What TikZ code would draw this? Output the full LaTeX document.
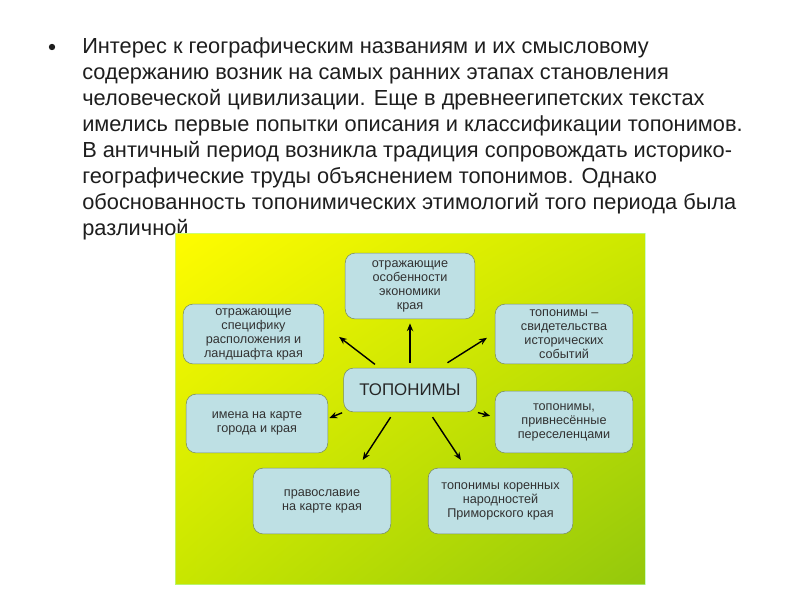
\documentclass[tikz,border=0pt]{standalone}
\usepackage{fontspec}
\setmainfont{Liberation Sans}
\usepackage{tikz}
\usetikzlibrary{arrows.meta,shadings}

\definecolor{boxfill}{RGB}{190,224,228}
\definecolor{boxline}{RGB}{120,140,100}
\definecolor{boxtext}{RGB}{50,50,50}
\definecolor{bodytext}{RGB}{30,30,30}
\definecolor{fieldul}{RGB}{255,252,0}
\definecolor{fieldur}{RGB}{205,232,0}
\definecolor{fieldll}{RGB}{200,230,0}
\definecolor{fieldlr}{RGB}{148,200,12}

\tikzset{
  body/.style={font=\fontsize{15.5pt}{18pt}\selectfont, text=bodytext, inner sep=0pt, anchor=base west},
  tbox/.style={draw=boxline, fill=boxfill, rounded corners=7pt, thin, align=center,
    font=\fontsize{9pt}{10pt}\selectfont, text=boxtext, inner sep=0pt},
  arr/.style={-{Stealth[length=5.5pt,width=4.5pt]}, line width=1pt}
}

\begin{document}
\begin{tikzpicture}[x=0.025cm, y=-0.025cm]
				\useasboundingbox (0,0) rectangle (800,600);
				\fill[white] (0,0) rectangle (800,600);
				% text
				\node[circle, fill=bodytext, inner sep=1.6pt] (bul) at (52,47) {};
				\foreach \t [count=\i] in {
				{Интерес к географическим названиям и их смысловому},
				{содержанию возник на самых ранних этапах становления},
				{человеческой цивилизации. Еще в древнеегипетских текстах},
				{имелись первые попытки описания и классификации топонимов.},
				{В античный период возникла традиция сопровождать историко-},
				{географические труды объяснением топонимов. Однако},
				{обоснованность топонимических этимологий того периода была},
				{различной}}
				\node[body] (l\i) at (82,27+26*\i) {\t};
				% green field
				\shade[upper left=fieldul, upper right=fieldur,
				lower left=fieldll, lower right=fieldlr]
				(175,233) rectangle (645,584);
				\draw[white!70!green, opacity=0.6] (175,233) rectangle (645,584);
				% boxes
				\node[tbox, minimum width=133*0.709pt, minimum height=44*0.709pt,
				font=\fontsize{12pt}{14pt}\selectfont, text=black!85] (c) at (410,390) {ТОПОНИМЫ};
				\node[tbox, minimum width=130*0.709pt, minimum height=66*0.709pt] (top) at (410,286)
				{отражающие\\особенности\\экономики\\края};
				\node[tbox, minimum width=141*0.709pt, minimum height=60*0.709pt] (lt) at (253.5,334)
				{отражающие\\специфику\\расположения и\\ландшафта края};
				\node[tbox, minimum width=138*0.709pt, minimum height=60*0.709pt] (rt) at (564,334)
				{топонимы –\\свидетельства\\исторических\\событий};
				\node[tbox, minimum width=142*0.709pt, minimum height=59*0.709pt] (lm) at (257,423.5)
				{имена на карте\\города и края};
				\node[tbox, minimum width=138*0.709pt, minimum height=62*0.709pt] (rm) at (564,422)
				{топонимы,\\привнесённые\\переселенцами};
				\node[tbox, minimum width=138*0.709pt, minimum height=66*0.709pt] (bl) at (322,501)
				{православие\\на карте края};
				\node[tbox, minimum width=145*0.709pt, minimum height=66*0.709pt] (br) at (500.5,501)
				{топонимы коренных\\народностей\\Приморского края};
				% arrows
				\draw[arr, shorten <=3.5pt, shorten >=3pt] (c.north) -- (top.south);
				\draw[arr, shorten <=4pt, shorten >=13.5pt] (c.144) -- (lt.7);
				\draw[arr, shorten <=6.7pt, shorten >=6.7pt] (c.37) -- (rt.179);
				\draw[arr, shorten <=1pt, shorten >=1pt] (c.south west) -- (lm.4);
				\draw[arr, shorten <=1pt, shorten >=3.5pt] (c.south east) -- (rm.176);
				\draw[arr, shorten <=4.2pt, shorten >=6.7pt] (c.234) -- (bl.43);
				\draw[arr, shorten <=4.2pt, shorten >=6.7pt] (c.311) -- (br.136);
			\end{tikzpicture}
\end{document}
